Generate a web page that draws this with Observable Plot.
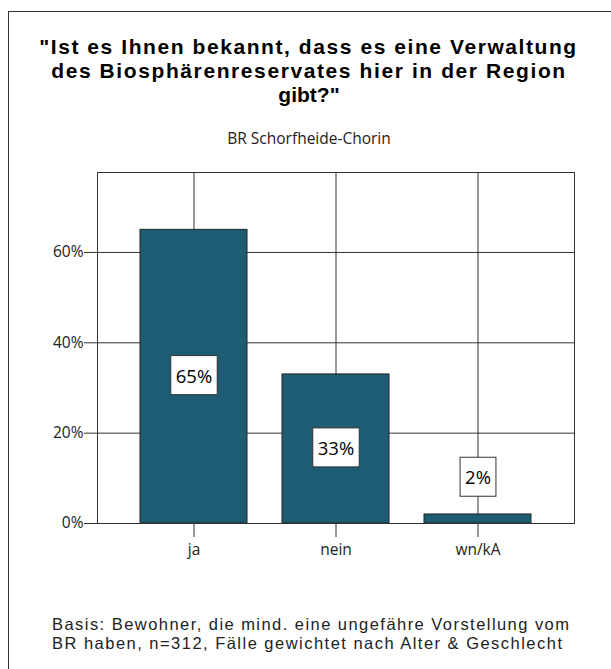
<!DOCTYPE html>
<html>
<head>
<meta charset="utf-8">
<script src="https://cdn.jsdelivr.net/npm/d3@7"></script>
<script src="https://cdn.jsdelivr.net/npm/@observablehq/plot@0.6"></script>
<style>
  html, body { margin: 0; padding: 0; background: #fff; }
  #wrap { position: relative; width: 611px; height: 669px; overflow: hidden; font-family: "Open Sans", Lato, sans-serif; color: #111; }
  #border { position: absolute; left: 8px; top: 11px; width: 700px; height: 700px; border-left: 1px solid #333; border-top: 1px solid #333; box-sizing: border-box; pointer-events: none; }
  .line { position: absolute; white-space: nowrap; overflow: visible; }
  .title { font-family: "Liberation Sans", Arial, sans-serif; font-weight: bold; font-size: 21px; line-height: 23.5px; height: 23.5px; color: #000; }
  .sub { font-size: 15.5px; line-height: 18px; height: 18px; color: #222; }
  .foot { font-family: "Liberation Sans", Arial, sans-serif; font-size: 16.5px; line-height: 19px; height: 19px; color: #222; }
  #chart { position: absolute; left: 0; top: 0; }
</style>
</head>
<body>
<div id="wrap">
  <div id="chart"></div>
  <div id="border"></div>
</div>
<script>
const categories = ["ja", "nein", "wn/kA"];
const values = [65, 33, 2];
const labels = ["65%", "33%", "2%"];
const labelWeights = ["bold", "normal", "normal"];
const yTicks = [0, 20, 40, 60];
const titleLines = ["\"Ist es Ihnen bekannt, dass es eine Verwaltung", "des Biosphärenreservates hier in der Region", "gibt?\""];
const subtitle = "BR Schorfheide-Chorin";
const footLines = ["Basis: Bewohner, die mind. eine ungefähre Vorstellung vom", "BR haben, n=312, Fälle gewichtet nach Alter & Geschlecht"];

const data = categories.map((c, i) => ({
  cat: c,
  value: values[i],
  label: labels[i],
  weight: labelWeights[i],
  labelY: values[i] > 10 ? values[i] / 2 : values[i] + 8
}));

const fontFam = "'Open Sans', Lato, sans-serif";
const chart = Plot.plot({
  width: 611,
  height: 669,
  marginLeft: 97,
  marginRight: 37,
  marginTop: 172,
  marginBottom: 146,
  style: { fontFamily: fontFam, fontSize: "15.5px", color: "#222", background: "transparent" },
  x: { domain: categories, paddingInner: 0.25, paddingOuter: 0.293, label: null },
  y: { domain: [0, 77.7], label: null },
  marks: [
    Plot.gridY(yTicks, { stroke: "#333", strokeOpacity: 1, strokeWidth: 1 }),
    Plot.gridX(categories, { stroke: "#333", strokeOpacity: 1, strokeWidth: 1 }),
    Plot.barY(data, { x: "cat", y: "value", fill: "#1d5c73", stroke: "#222", strokeWidth: 1 }),
    Plot.frame({ stroke: "#333", strokeWidth: 1 }),
    Plot.axisY({ ticks: yTicks, tickFormat: d => d + "%", tickSize: 13, tickPadding: 1, stroke: "#333", label: null }),
    Plot.axisX({ tickSize: 14, tickPadding: 6, stroke: "#333", label: null }),
    Plot.text(data, { x: "cat", y: "labelY", text: "label", fontSize: 18.5, fill: "#000", fontWeight: "weight", className: "vlabel" })
  ]
});
document.getElementById("chart").appendChild(chart);

// white boxes behind the value labels
d3.select(chart).selectAll("g.vlabel text").each(function () {
  const b = this.getBBox();
  const padX = 5, padY = 9;
  d3.select(this.parentNode).insert("rect", () => this)
    .attr("transform", this.getAttribute("transform"))
    .attr("x", b.x - padX)
    .attr("y", b.y - padY + 2)
    .attr("width", b.width + 2 * padX)
    .attr("height", b.height + 2 * padY - 4)
    .attr("fill", "#fff")
    .attr("stroke", "#333")
    .attr("stroke-width", 1);
});

// text lines (centered or left-aligned, fitted to the reference widths)
const wrap = document.getElementById("wrap");
function addLine(text, cls, opts) {
  const el = document.createElement("div");
  el.className = "line " + cls;
  el.textContent = text;
  wrap.appendChild(el);
  if (opts.width) {
    const w = el.getBoundingClientRect().width;
    const ls = (opts.width - w) / Math.max(1, text.length - 1);
    el.style.letterSpacing = ls + "px";
  }
  const r = el.getBoundingClientRect();
  const left = opts.center != null ? opts.center - r.width / 2 : opts.left;
  el.style.left = left + "px";
  el.style.top = (opts.cy - r.height / 2) + "px";
}
addLine(titleLines[0], "title", { center: 308.5, cy: 47, width: 537 });
addLine(titleLines[1], "title", { center: 309, cy: 71, width: 514 });
addLine(titleLines[2], "title", { center: 309, cy: 95 });
addLine(subtitle, "sub", { center: 309, cy: 138 });
addLine(footLines[0], "foot", { left: 52, cy: 624, width: 517 });
addLine(footLines[1], "foot", { left: 52, cy: 643.5, width: 510 });
</script>
</body>
</html>
